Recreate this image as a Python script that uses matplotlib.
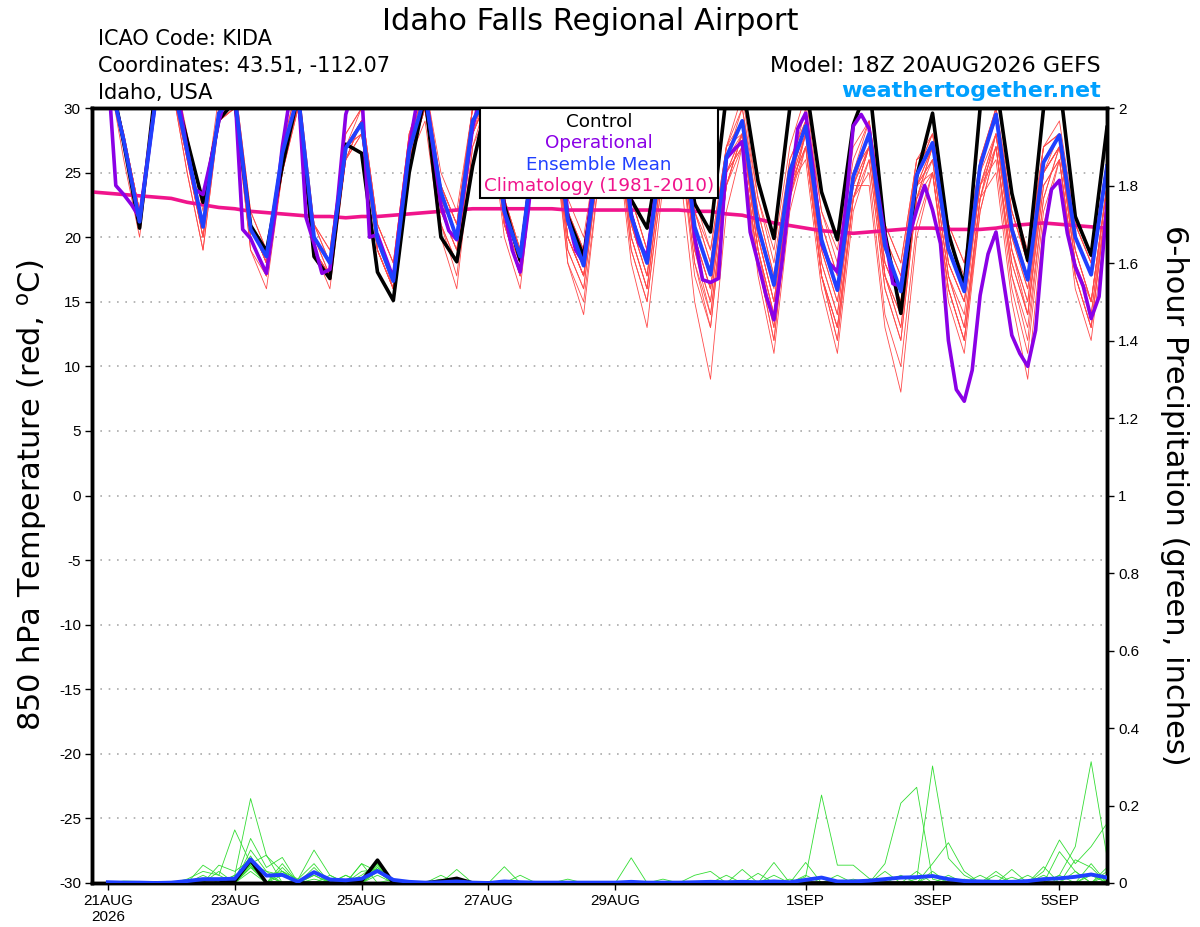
import numpy as np
import matplotlib
matplotlib.use("Agg")
import matplotlib.pyplot as plt
from matplotlib.patches import Rectangle

plt.rcParams['font.family'] = ['Liberation Sans', 'DejaVu Sans']
plt.rcParams['axes.unicode_minus'] = False
plt.rcParams['mathtext.fontset'] = 'custom'
plt.rcParams['mathtext.rm'] = 'DejaVu Sans'

# ---------------- data ----------------
init = np.datetime64('2026-08-20T18:00')
fhours = np.arange(6, 385, 6)          # 6-hourly ensemble output
clim_fhours = np.arange(0, 385, 6)     # climatology incl. initial time
op_fhours = np.arange(6, 385, 3)       # 3-hourly operational output

tick_dates = ['2026-08-21', '2026-08-23', '2026-08-25', '2026-08-27',
              '2026-08-29', '2026-09-01', '2026-09-03', '2026-09-05']
tick_labels = ['21AUG\n2026', '23AUG', '25AUG', '27AUG', '29AUG',
               '1SEP', '3SEP', '5SEP']

control_t = [33.5, 27.3, 20.7, 31.5, 32.5, 27.5, 22.7, 29.1, 30.5, 20.9, 18.9, 25.5,
             31, 18.5, 16.8, 27.2, 26.5, 17.3, 15.1, 25.0, 31, 20.0, 18.1, 25.5,
             31, 22.5, 18.2, 28, 31, 21.6, 18.5, 27, 31, 22.9, 20.7, 28,
             31, 22.6, 20.4, 31, 32, 24.3, 19.9, 30, 32, 23.5, 19.8, 28.7,
             32, 20.3, 14.1, 24.7, 29.6, 20.3, 16.2, 30.0, 32, 23.4, 18.2, 30.0,
             32, 21.6, 18.6, 28.5]

mean_t = [32.8, 27.5, 21.2, 30.5, 32.5, 26.7, 20.8, 29.6, 31, 20.6, 18.5, 26.5,
          31, 20.0, 18.0, 26.9, 28.8, 19.8, 16.6, 26.7, 31, 23.5, 19.9, 29,
          31, 22, 18.5, 28, 31, 21.3, 17.8, 27, 31, 21.6, 18.0, 27.5,
          30.5, 20.8, 17.1, 26.2, 29.0, 20.8, 16.3, 25.1, 28.6, 19.8, 15.9, 24.7,
          28.0, 19.3, 15.8, 24.8, 27.3, 19.1, 15.8, 25.5, 29.5, 20.6, 16.7, 25.8,
          27.9, 20.0, 17.1, 25.5]

oper_t = [33, 24.0, 23.3, 22.5, 21.5, 26,
          30.5, 32, 32, 30.5, 26.7, 23.7, 23.3, 26,
          29, 31, 31.5, 20.6, 19.9, 18.5, 17.2, 21.5,
          27, 31, 31.5, 21.5, 19.5, 17.2, 17.5, 23,
          29.5, 31.5, 31.5, 20.0, 20.2, 18.5, 16.8, 22,
          27, 30.5, 31.5, 27, 22.5, 20.5, 19.8, 24,
          28.5, 31, 32, 30, 22.1, 19, 17.3, 22,
          28, 31, 32, 29, 21.5, 19, 18.0, 23,
          27.5, 30.5, 31.5, 28, 21.8, 19.5, 18.5, 23,
          27.5, 30.5, 31.5, 27, 20.0, 16.7, 16.5, 16.8,
          26.1, 26.8, 27.4, 20.4, 18.0, 15.5, 13.6, 18,
          23.3, 28.4, 29.6, 25, 19.5, 18.0, 17.3, 22,
          28.6, 29.5, 28.4, 24, 20.0, 16.4, 16.2, 20.0,
          22.1, 24.0, 22.1, 19.5, 12.0, 8.2, 7.3, 9.7,
          15.5, 18.7, 20.4, 16.4, 12.4, 11.0, 10.0, 12.8,
          20.0, 23.7, 24.4, 20.3, 17.7, 16.2, 13.7, 15.4,
          22.6]

clim_t = [23.5, 23.4, 23.3, 23.2, 23.1, 23.0, 22.7, 22.5, 22.3, 22.2, 22.0, 21.9, 21.8,
          21.7, 21.6, 21.6, 21.5, 21.6, 21.6, 21.7, 21.8, 21.9, 22.0, 22.1, 22.2,
          22.2, 22.2, 22.2, 22.2, 22.2, 22.1, 22.1, 22.1, 22.1, 22.1, 22.1, 22.1,
          22.1, 22.0, 22.0, 21.8, 21.7, 21.4, 21.1, 20.9, 20.7, 20.5, 20.4, 20.3,
          20.4, 20.5, 20.6, 20.7, 20.7, 20.6, 20.6, 20.6, 20.7, 20.9, 21.0, 21.1,
          21.0, 20.9, 20.8, 20.7]

members_t = [
    [33,27,21,30, 33,27,21,30, 31,20,17,26, 30,19,17,26, 28,19,16,26, 30,21,18,28, 31,21,17,27, 30,19,16,26,
     30,19,15,25, 28,18,13,24, 27,18,12,23, 28,17,13,23, 25,14,10,21, 25,16,12,23, 28,19,15,25, 27,18,14,24],
    [33,28,22,31, 34,28,22,31, 32,22,19,27, 32,21,19,28, 30,21,18,28, 32,24,21,30, 32,23,19,29, 32,22,19,28,
     32,23,19,28, 31,23,19,27, 31,23,19,27, 31,22,19,27, 29,21,18,26, 28,21,18,26, 30,22,18,27, 29,21,18,26],
    [33,27,21,30, 32,26,20,29, 30,19,17,25, 30,19,17,26, 29,19,16,26, 29,20,16,27, 30,20,16,27, 30,18,15,25,
     29,18,13,24, 26,15,9,22, 27,17,11,22, 27,17,12,23, 27,17,13,23, 26,17,14,24, 26,16,11,22, 26,16,12,22],
    [33,27,21,30, 33,27,21,30, 31,21,18,26, 31,21,18,27, 30,21,18,28, 31,23,20,29, 31,21,17,27, 31,21,18,27,
     32,23,19,28, 31,22,19,27, 29,22,17,25, 28,19,15,24, 27,17,14,24, 25,16,12,22, 27,17,13,23, 27,18,14,23],
    [33,26,20,30, 32,25,19,29, 30,20,17,25, 31,20,18,27, 29,20,17,27, 31,23,20,29, 32,23,19,28, 30,20,17,26,
     30,20,16,26, 29,19,14,24, 28,19,13,24, 28,18,14,24, 24,13,8,20, 25,16,12,23, 28,19,14,25, 27,19,15,24],
    [33,28,22,31, 33,27,21,30, 31,21,18,26, 30,19,17,26, 29,19,16,26, 31,22,19,28, 31,21,17,27, 32,22,19,28,
     31,22,18,27, 30,20,16,26, 29,21,16,25, 30,22,18,26, 29,20,17,26, 27,19,16,25, 30,23,19,27, 28,20,17,25],
    [33,27,21,30, 33,27,21,30, 31,21,18,26, 31,20,18,27, 29,20,17,27, 31,24,21,30, 31,22,18,28, 30,20,17,26,
     30,19,15,25, 28,17,13,24, 28,19,14,24, 27,17,13,23, 26,16,12,23, 25,15,11,22, 27,18,14,24, 26,17,13,23],
    [33,27,21,30, 32,26,20,29, 31,21,18,26, 31,20,18,27, 29,20,17,27, 31,23,20,29, 31,21,18,28, 29,18,14,25,
     30,21,17,27, 30,21,17,26, 28,20,15,24, 28,19,15,24, 28,19,16,25, 28,20,17,26, 29,21,17,26, 28,21,18,26],
    [33,28,22,31, 33,27,21,30, 30,20,17,25, 30,19,17,26, 28,19,16,26, 30,21,17,27, 31,21,17,27, 31,21,18,27,
     31,22,18,27, 30,22,18,27, 28,19,14,24, 27,17,12,23, 27,17,13,23, 27,18,15,24, 27,17,12,23, 27,19,15,24],
    [33,27,21,30, 32,26,20,29, 30,20,17,26, 31,21,18,27, 29,20,17,27, 32,24,21,30, 31,22,19,28, 31,21,18,27,
     30,21,17,27, 29,19,15,25, 28,20,15,24, 29,20,16,25, 28,20,17,25, 28,21,18,26, 30,22,18,27, 28,20,17,25],
    [33,27,21,30, 33,27,21,30, 31,21,18,26, 31,20,17,27, 29,20,16,27, 31,23,20,29, 30,21,17,27, 30,20,17,26,
     31,22,18,27, 30,20,16,25, 27,18,12,23, 28,18,14,24, 27,18,15,24, 26,17,13,23, 25,15,9,21, 26,17,13,23],
    [33,28,22,31, 33,26,20,30, 31,21,18,26, 31,20,18,27, 28,19,16,26, 30,22,19,28, 32,23,19,29, 32,22,19,28,
     30,21,17,27, 30,21,17,26, 30,23,18,26, 29,21,17,25, 27,18,15,24, 27,18,15,24, 28,19,15,25, 27,18,15,24],
    [33,27,21,30, 33,27,21,30, 30,20,17,26, 30,19,16,26, 29,20,17,27, 32,25,22,30, 31,22,18,28, 30,20,17,26,
     30,20,16,26, 28,18,14,24, 28,20,15,24, 29,21,17,25, 29,21,18,26, 27,19,16,25, 28,20,16,25, 28,21,18,26],
    [33,27,21,30, 32,25,19,29, 30,19,16,25, 31,20,18,27, 28,19,16,26, 30,21,18,28, 31,22,18,28, 30,19,16,26,
     31,22,18,27, 29,20,16,25, 27,18,13,23, 27,17,13,23, 27,17,14,24, 26,17,13,23, 27,18,14,24, 26,17,13,23],
    [33,27,21,30, 33,27,21,30, 32,22,19,27, 32,21,19,28, 30,21,18,28, 32,24,21,30, 31,22,19,28, 32,23,20,28,
     32,23,19,28, 31,22,18,27, 30,22,17,26, 29,20,16,25, 27,18,15,24, 27,19,16,25, 30,22,18,27, 28,20,17,25],
    [33,28,22,31, 33,27,21,30, 31,21,18,26, 31,20,17,27, 29,20,17,27, 30,22,19,28, 31,21,18,28, 30,20,17,26,
     30,20,16,26, 29,19,15,25, 28,19,14,24, 26,16,11,22, 26,16,12,23, 27,18,15,24, 28,20,16,25, 27,19,15,24],
]

control_p = [0, 0, 0, 0, 0, 0, 0, 0, 0.005, 0.059, 0, 0, 0, 0, 0, 0,
             0.005, 0.059, 0, 0, 0, 0.005, 0.012, 0, 0, 0, 0, 0, 0, 0, 0, 0,
             0, 0, 0, 0, 0, 0, 0, 0, 0, 0, 0, 0, 0, 0, 0, 0,
             0, 0, 0, 0, 0, 0, 0, 0, 0, 0, 0, 0, 0, 0, 0, 0]

mean_p = [0.002, 0.001, 0.001, 0, 0.001, 0.005, 0.01, 0.01,
          0.011, 0.061, 0.019, 0.021, 0.003, 0.028, 0.009, 0.007,
          0.011, 0.031, 0.008, 0.003, 0.001, 0.002, 0.004, 0.001,
          0, 0.004, 0.002, 0.001, 0.001, 0.001, 0.001, 0.001,
          0.001, 0.003, 0.001, 0.001, 0.001, 0.002, 0.003, 0.002,
          0.003, 0.002, 0.004, 0.002, 0.008, 0.014, 0.004, 0.004,
          0.006, 0.01, 0.014, 0.015, 0.018, 0.01, 0.005, 0.004,
          0.003, 0.003, 0.005, 0.01, 0.012, 0.016, 0.022, 0.014]

# non-zero 6-h amounts of each perturbed member, keyed by 6-h step (1..64)
members_p_nonzero = [
    {6: .01, 7: .03, 8: .02, 9: .137, 10: .05, 11: .02, 12: .03, 14: .02, 18: .04, 19: .01,
     45: .016, 46: .227, 47: .046, 48: .046, 49: .012},
    {9: .02, 10: .218, 11: .07, 12: .03, 13: .01, 14: .085, 15: .02, 17: .02, 18: .05,
     52: .01, 53: .302, 54: .064, 55: .02},
    {10: .115, 11: .04, 12: .066, 14: .03, 17: .05, 18: .03, 50: .05, 51: .206, 52: .247, 53: .01},
    {7: .046, 8: .02, 10: .085, 11: .03, 12: .02, 14: .04, 18: .06, 61: .02, 62: .094, 63: .313, 64: .068},
    {8: .046, 9: .03, 10: .06, 12: .05, 16: .02, 18: .05, 60: .03, 61: .111, 62: .05, 63: .094, 64: .154},
    {10: .05, 11: .072, 14: .02, 18: .03, 26: .042, 43: .053, 53: .05, 54: .104, 55: .03},
    {9: .01, 10: .07, 12: .04, 18: .045, 23: .035, 41: .035, 45: .053, 58: .035, 61: .081, 62: .03},
    {10: .04, 11: .02, 14: .03, 17: .05, 34: .065, 57: .03, 60: .042, 64: .02},
    {7: .02, 10: .06, 12: .02, 18: .03, 22: .02, 44: .01, 47: .02, 53: .02, 63: .05},
    {10: .03, 14: .01, 19: .01, 30: .01, 38: .02, 39: .03, 52: .03, 54: .02, 62: .06, 63: .04},
    {8: .03, 10: .05, 11: .03, 18: .04, 40: .02, 56: .02, 59: .02, 64: .03},
    {9: .02, 10: .045, 13: .01, 14: .05, 27: .02, 36: .01, 50: .03, 61: .02},
    {2: .005, 3: .004, 10: .04, 15: .02, 22: .01, 42: .025, 48: .01, 57: .02, 63: .02},
    {10: .055, 11: .02, 17: .03, 18: .035, 45: .02, 55: .01, 62: .03},
    {6: .005, 10: .05, 12: .03, 16: .02, 18: .02, 43: .02, 58: .015, 63: .025},
    {10: .045, 14: .03, 18: .03, 51: .02, 53: .03, 60: .02, 64: .04},
]

# ---------------- figure ----------------
times = init + fhours.astype('timedelta64[h]')
clim_times = init + clim_fhours.astype('timedelta64[h]')
op_times = init + op_fhours.astype('timedelta64[h]')

W, H = 1200, 927
fig = plt.figure(figsize=(W / 100, H / 100), dpi=100)
L, R, T, B = 92, 1107, 108, 883
ax = fig.add_axes([L / W, 1 - B / H, (R - L) / W, (B - T) / H])
ax2 = ax.twinx()

red = '#FF4A4A'
green = '#33DD33'
purple = '#8A00E6'
blue = '#2040FF'
pink = '#F0148C'
wide = ['DejaVu Sans']

for m in members_t:
    ax.plot(times, m, color=red, lw=0.6, zorder=2)
ax.plot(clim_times, clim_t, color=pink, lw=2.6, zorder=3)
ax.plot(times, control_t, color='black', lw=2.6, zorder=4)
ax.plot(op_times, oper_t, color=purple, lw=2.6, zorder=5)
ax.plot(times, mean_t, color=blue, lw=2.8, zorder=6)

for d in members_p_nonzero:
    p = [0.0] * len(fhours)
    for k, v in d.items():
        p[k - 1] = v
    ax2.plot(times, p, color=green, lw=0.6, zorder=2)
ax2.plot(times, control_p, color='black', lw=2.6, zorder=3)
ax2.plot(times, mean_p, color=blue, lw=2.8, zorder=4)

ax.set_xlim(init, init + np.timedelta64(384, 'h'))
ax.set_ylim(-30, 30)
ax2.set_ylim(0, 2)

ax.set_yticks(np.arange(-30, 31, 5))
ax2.set_yticks(np.arange(0, 2.01, 0.2))
ax2.set_yticklabels(['0', '0.2', '0.4', '0.6', '0.8', '1', '1.2', '1.4', '1.6', '1.8', '2'])
for y in range(-25, 30, 5):
    ax.axhline(y, color='#AAAAAA', lw=1.2, ls=(0, (1, 4)), zorder=1)

ax.set_xticks([np.datetime64(d + 'T00:00') for d in tick_dates])
ax.set_xticklabels(tick_labels)

for a in (ax, ax2):
    for s in a.spines.values():
        s.set_linewidth(2.5)
    a.tick_params(axis='both', direction='out', length=5, width=1, labelsize=11, pad=3)

# axis titles
fig.text(32 / W, 1 - 495 / H, '850 hPa Temperature (red, $^{\\mathregular{o}}$C)', rotation=90,
         ha='center', va='center', fontsize=22, family=wide)
fig.text(1175 / W, 1 - 495 / H, '6-hour Precipitation (green, inches)', rotation=270,
         ha='center', va='center', fontsize=22, family=wide)

# header
fig.text(590 / W, 1 - 30 / H, 'Idaho Falls Regional Airport', ha='center', va='baseline',
         fontsize=22, family=wide)
fig.text(98 / W, 1 - 45 / H, 'ICAO Code: KIDA', ha='left', va='baseline', fontsize=15, family=wide)
fig.text(98 / W, 1 - 72 / H, 'Coordinates: 43.51, -112.07', ha='left', va='baseline', fontsize=15, family=wide)
fig.text(98 / W, 1 - 99 / H, 'Idaho, USA', ha='left', va='baseline', fontsize=15, family=wide)
fig.text(1101 / W, 1 - 72 / H, 'Model: 18Z 20AUG2026 GEFS', ha='right', va='baseline', fontsize=16, family=wide)
fig.text(1101 / W, 1 - 97 / H, 'weathertogether.net', ha='right', va='baseline', fontsize=16,
         fontweight='bold', color='#00A0FF', family=wide)

# legend box
bx0, bx1, by0, by1 = 480, 718, 108, 198
fig.patches.append(Rectangle((bx0 / W, 1 - by1 / H), (bx1 - bx0) / W, (by1 - by0) / H,
                             transform=fig.transFigure, facecolor='white', edgecolor='black',
                             lw=1.5, zorder=10))
cx = (bx0 + bx1) / 2 / W
for txt, col, yb in [('Control', 'black', 127), ('Operational', purple, 148),
                     ('Ensemble Mean', blue, 170), ('Climatology (1981-2010)', pink, 191)]:
    fig.text(cx, 1 - yb / H, txt, color=col, ha='center', va='baseline', fontsize=13.2,
             zorder=11, family=wide)

fig.savefig('out.png', dpi=100)
